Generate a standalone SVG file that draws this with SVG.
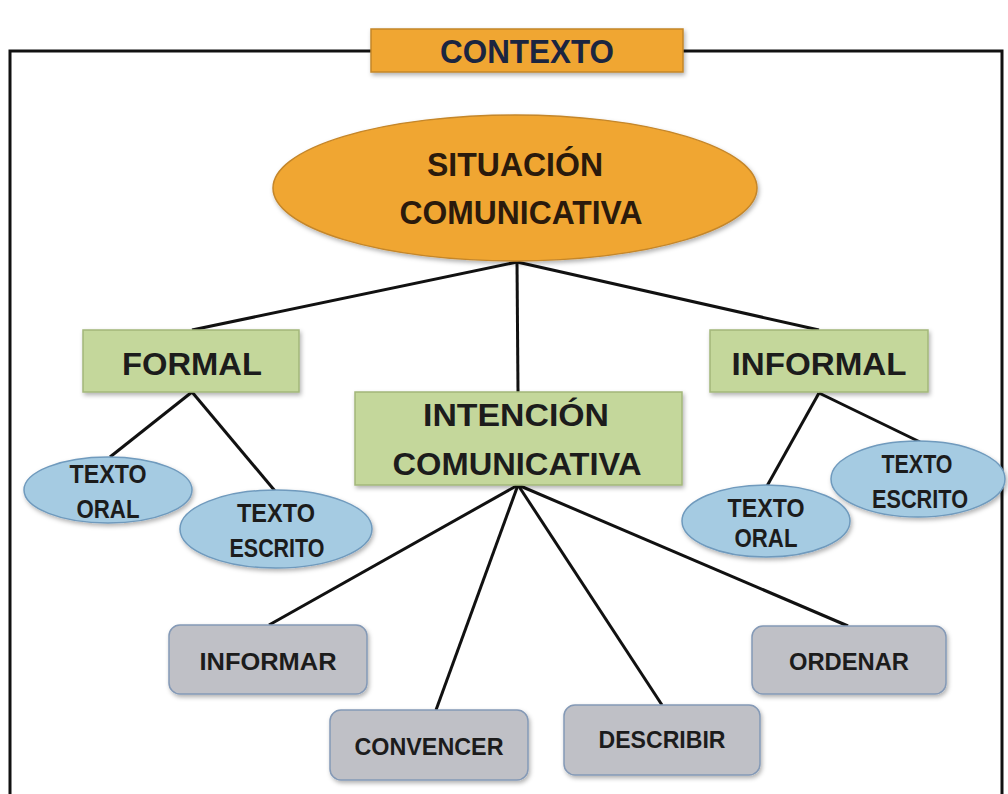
<svg xmlns="http://www.w3.org/2000/svg" width="1008" height="794" viewBox="0 0 1008 794">
<defs>
<filter id="sh" x="-10%" y="-10%" width="125%" height="135%">
<feDropShadow dx="1.5" dy="2.5" stdDeviation="2" flood-color="#000" flood-opacity="0.3"/>
</filter>
<style>
.t{font-family:"Liberation Sans",Arial,sans-serif;font-weight:bold;text-anchor:middle;fill:#1c1c1c}
.orange{fill:#F0A631;stroke:#C4862A;stroke-width:1.5}
.green{fill:#C4D79B;stroke:#A3B77A;stroke-width:1.5}
.blue{fill:#A5CBE2;stroke:#6F9ABD;stroke-width:1.5}
.gray{fill:#BFC0C6;stroke:#8499B6;stroke-width:1.5}
.ln{stroke:#111;stroke-width:3;fill:none}
</style>
</defs>
<rect width="1008" height="794" fill="#fff"/>
<g id="frame">
<path d="M10 794 V51 H1002 V794" fill="none" stroke="#111" stroke-width="3"/>
</g>
<g id="connectors" class="ln">
<line x1="517" y1="262" x2="192" y2="330"/>
<line x1="517" y1="262" x2="518" y2="392"/>
<line x1="517" y1="262" x2="819" y2="330"/>
<line x1="192" y1="392" x2="110" y2="457"/>
<line x1="192" y1="392" x2="275" y2="491"/>
<line x1="819" y1="393" x2="767" y2="486"/>
<line x1="819" y1="393" x2="920" y2="442"/>
<line x1="518" y1="485" x2="269" y2="625"/>
<line x1="518" y1="485" x2="436" y2="710"/>
<line x1="518" y1="485" x2="662" y2="705"/>
<line x1="518" y1="485" x2="848" y2="626"/>
</g>
<g id="contexto">
<rect x="371" y="29" width="312" height="43" class="orange" filter="url(#sh)"/>
<text x="527" y="63" class="t" font-size="34" style="fill:#1B2540" textLength="174" lengthAdjust="spacingAndGlyphs">CONTEXTO</text>
</g>
<g id="situacion">
<ellipse cx="515" cy="188" rx="242" ry="73" class="orange" filter="url(#sh)"/>
<text x="515" y="176" class="t" font-size="33" style="fill:#2a1a0c" textLength="176" lengthAdjust="spacingAndGlyphs">SITUACIÓN</text>
<text x="521" y="224" class="t" font-size="33" style="fill:#2a1a0c" textLength="243" lengthAdjust="spacingAndGlyphs">COMUNICATIVA</text>
</g>
<g id="formal">
<rect x="83" y="330" width="216" height="62" class="green" filter="url(#sh)"/>
<text x="192" y="375" class="t" font-size="32" textLength="140" lengthAdjust="spacingAndGlyphs">FORMAL</text>
</g>
<g id="informal">
<rect x="710" y="330" width="218" height="62" class="green" filter="url(#sh)"/>
<text x="819" y="375" class="t" font-size="32" textLength="175" lengthAdjust="spacingAndGlyphs">INFORMAL</text>
</g>
<g id="intencion">
<rect x="355" y="392" width="327" height="93" class="green" filter="url(#sh)"/>
<text x="516" y="426" class="t" font-size="31" textLength="186" lengthAdjust="spacingAndGlyphs">INTENCIÓN</text>
<text x="517" y="475" class="t" font-size="32" textLength="249" lengthAdjust="spacingAndGlyphs">COMUNICATIVA</text>
</g>
<g id="formal-oral">
<ellipse cx="108" cy="490" rx="84" ry="33" class="blue" filter="url(#sh)"/>
<text x="108" y="483" class="t" font-size="25" textLength="77" lengthAdjust="spacingAndGlyphs">TEXTO</text>
<text x="108" y="518" class="t" font-size="25" textLength="63" lengthAdjust="spacingAndGlyphs">ORAL</text>
</g>
<g id="formal-escrito">
<ellipse cx="276" cy="529" rx="96" ry="39" class="blue" filter="url(#sh)"/>
<text x="276" y="522" class="t" font-size="25" textLength="78" lengthAdjust="spacingAndGlyphs">TEXTO</text>
<text x="277" y="557" class="t" font-size="25" textLength="95" lengthAdjust="spacingAndGlyphs">ESCRITO</text>
</g>
<g id="informal-escrito">
<ellipse cx="918" cy="479" rx="87" ry="38" class="blue" filter="url(#sh)"/>
<text x="917" y="473" class="t" font-size="25" textLength="71" lengthAdjust="spacingAndGlyphs">TEXTO</text>
<text x="920" y="508" class="t" font-size="25" textLength="96" lengthAdjust="spacingAndGlyphs">ESCRITO</text>
</g>
<g id="informal-oral">
<ellipse cx="766" cy="521" rx="84" ry="36" class="blue" filter="url(#sh)"/>
<text x="766" y="517" class="t" font-size="25" textLength="77" lengthAdjust="spacingAndGlyphs">TEXTO</text>
<text x="766" y="547" class="t" font-size="25" textLength="63" lengthAdjust="spacingAndGlyphs">ORAL</text>
</g>
<g id="informar">
<rect x="169" y="625" width="198" height="69" rx="11" class="gray" filter="url(#sh)"/>
<text x="268" y="670" class="t" font-size="24" textLength="137" lengthAdjust="spacingAndGlyphs">INFORMAR</text>
</g>
<g id="convencer">
<rect x="330" y="710" width="198" height="70" rx="11" class="gray" filter="url(#sh)"/>
<text x="429" y="755" class="t" font-size="24" textLength="149" lengthAdjust="spacingAndGlyphs">CONVENCER</text>
</g>
<g id="describir">
<rect x="564" y="705" width="196" height="70" rx="11" class="gray" filter="url(#sh)"/>
<text x="662" y="748" class="t" font-size="24" textLength="127" lengthAdjust="spacingAndGlyphs">DESCRIBIR</text>
</g>
<g id="ordenar">
<rect x="752" y="626" width="194" height="68" rx="11" class="gray" filter="url(#sh)"/>
<text x="849" y="670" class="t" font-size="24" textLength="120" lengthAdjust="spacingAndGlyphs">ORDENAR</text>
</g>
</svg>
